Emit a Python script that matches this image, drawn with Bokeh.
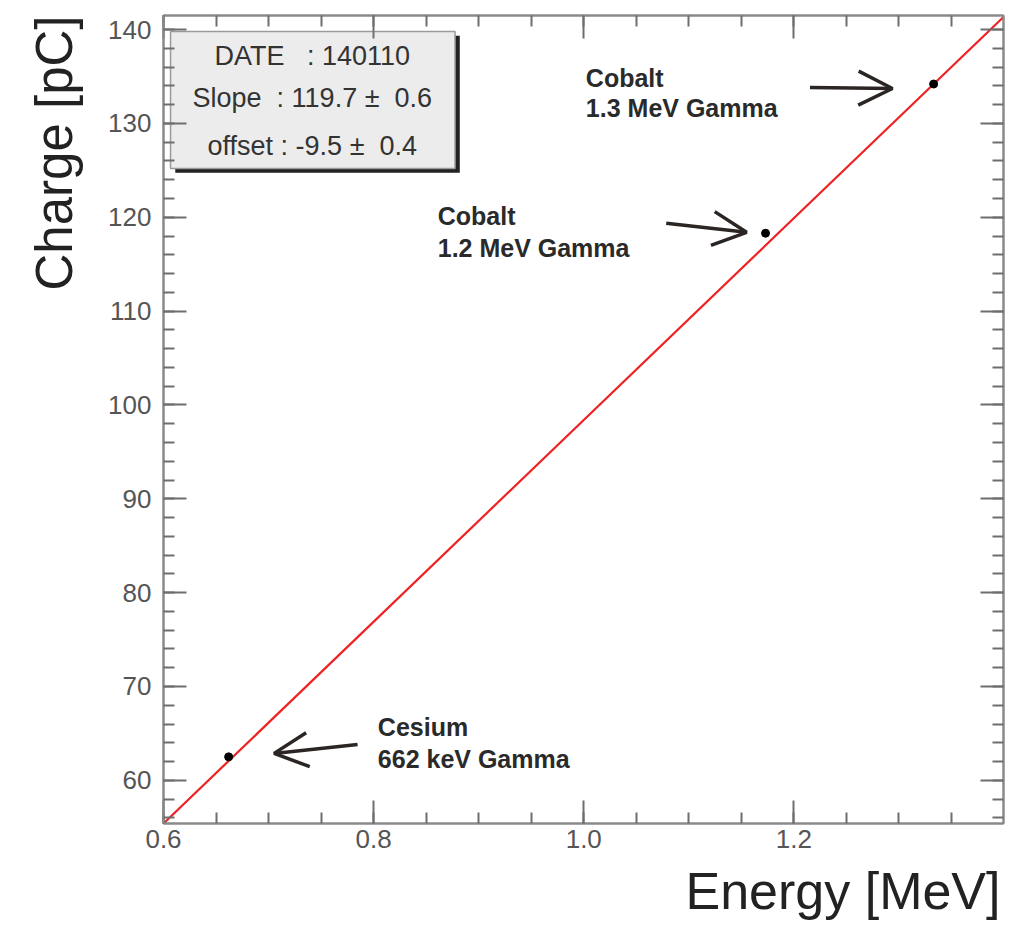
from bokeh.plotting import figure
from bokeh.models import (Arrow, OpenHead, Label, LinearAxis, FixedTicker,
                          PrintfTickFormatter, Range1d, Title, CustomJSTickFormatter)
from bokeh.embed import file_html
from bokeh.resources import INLINE

# ---- data ----
energy = [0.662, 1.173, 1.333]          # MeV
charge = [62.5, 118.3, 134.2]           # pC
fit_x = [0.6, 1.4]
fit_y = [55.4, 141.4]

x_major = [0.6, 0.8, 1.0, 1.2]
x_minor = [round(0.6 + 0.05 * i, 2) for i in range(17)]
y_major = [60, 70, 80, 90, 100, 110, 120, 130, 140]
y_minor = list(range(56, 142, 2))

stats_lines = ["DATE\u00a0\u00a0\u00a0: 140110",
               "Slope\u00a0\u00a0: 119.7 \u00b1\u00a0\u00a00.6",
               "offset : -9.5 \u00b1\u00a0\u00a00.4"]

# annotation texts (two lines each) and arrows (tail -> head)
notes = [("Cobalt", "1.3 MeV Gamma"), ("Cobalt", "1.2 MeV Gamma"), ("Cesium", "662 keV Gamma")]
note_pos = [(1.002, 134.79, 131.6), (0.861, 120.1, 116.7), (0.804, 65.64, 62.23)]
arrows = [((1.2153, 133.83), (1.2938, 133.72)),
          ((1.0785, 119.36), (1.1550, 118.40)),
          ((0.7847, 63.83), (0.7053, 62.87))]

FONT = "Liberation Sans"
GRAY = "#6e6e6e"

p = figure(frame_width=840, frame_height=808,
           x_range=Range1d(0.6, 1.3995), y_range=Range1d(55.4, 141.5),
           output_backend="svg", toolbar_location=None,
           min_border_left=163, min_border_top=15, min_border_bottom=104, min_border_right=2,
           x_axis_location=None, y_axis_location=None)
p.grid.visible = False
p.outline_line_color = "#8a8a8a"
p.outline_line_width = 2
p.background_fill_color = "white"
p.border_fill_color = "white"


def style(ax, labels=True):
    ax.axis_line_color = "#8a8a8a"
    ax.axis_line_width = 2
    ax.major_tick_in = 23
    ax.major_tick_out = 0
    ax.minor_tick_in = 11
    ax.minor_tick_out = 0
    ax.major_tick_line_color = GRAY
    ax.minor_tick_line_color = GRAY
    ax.major_tick_line_width = 2
    ax.minor_tick_line_width = 2
    ax.major_label_text_font = FONT
    ax.major_label_text_color = "#555555"
    ax.major_label_text_font_size = "26px" if labels else "8px"


xt = FixedTicker(ticks=x_major, minor_ticks=x_minor)
yt = FixedTicker(ticks=y_major, minor_ticks=y_minor)
blank = CustomJSTickFormatter(code="return ''")

xb = LinearAxis(ticker=xt, formatter=PrintfTickFormatter(format="%.1f"))
style(xb)
xb.major_label_standoff = 6
p.add_layout(xb, "below")

xa = LinearAxis(ticker=xt, formatter=blank)
style(xa, labels=False)
xa.major_label_standoff = 0
p.add_layout(xa, "above")

yl = LinearAxis(ticker=yt)
style(yl)
yl.major_label_standoff = 12
p.add_layout(yl, "left")

yr = LinearAxis(ticker=yt, formatter=blank)
style(yr, labels=False)
yr.major_label_standoff = 0
p.add_layout(yr, "right")

# axis titles (ROOT style: aligned at the end of the axes)
p.add_layout(Title(text="Charge [pC]", align="right", text_font=FONT, text_font_style="normal",
                   text_font_size="51px", text_color="#222222", standoff=45), "left")
p.add_layout(Title(text="Energy [MeV]", align="right", text_font=FONT, text_font_style="normal",
                   text_font_size="52px", text_color="#222222", standoff=18, offset=3), "below")

# fit line and points
p.line(fit_x, fit_y, line_color="#ee2222", line_width=2.2)
p.scatter(energy, charge, size=8, color="black")

# stats box with shadow
bx0, bx1, by0, by1 = 0.6067, 0.8775, 125.2, 139.8
p.quad(left=bx0 + 0.0045, right=bx1 + 0.0045, bottom=by0 - 0.45, top=by1 - 0.45,
       fill_color="#222222", line_color=None)
p.quad(left=bx0, right=bx1, bottom=by0, top=by1,
       fill_color="#ececec", line_color="#9a9a9a", line_width=1.5)
for txt, yy in zip(stats_lines, [137.23, 132.66, 127.55]):
    p.add_layout(Label(x=0.7416, y=yy, text=txt, text_align="center", text_baseline="middle",
                       text_font=FONT, text_font_size="27px", text_color="#333333"))

# annotations
for (l1, l2), (nx, ny1, ny2) in zip(notes, note_pos):
    for t, yy in ((l1, ny1), (l2, ny2)):
        p.add_layout(Label(x=nx, y=yy, text=t, text_align="left", text_baseline="alphabetic",
                           text_font=FONT, text_font_style="bold",
                           text_font_size="25px", text_color="#2a2a2a"))
for (tx, ty), (hx, hy) in arrows:
    p.add_layout(Arrow(x_start=tx, y_start=ty, x_end=hx, y_end=hy,
                       line_color="#2b2623", line_width=3.5,
                       end=OpenHead(size=34, line_color="#2b2623", line_width=3.5)))

open("out.html", "w").write(file_html(p, INLINE))
